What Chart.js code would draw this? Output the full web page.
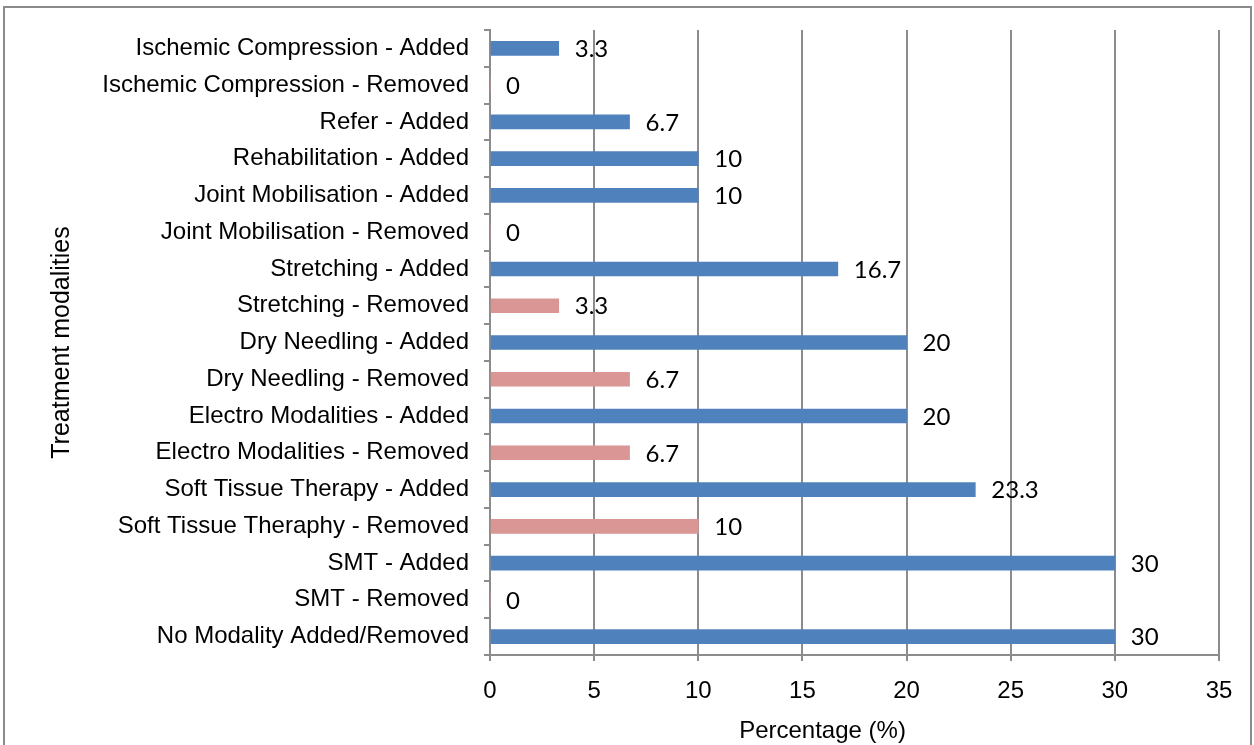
<!DOCTYPE html>
<html>
<head>
<meta charset="utf-8">
<style>
  html, body { margin: 0; padding: 0; background: #fff; }
  #wrap { width: 1254px; height: 745px; }
</style>
<script src="https://cdn.jsdelivr.net/npm/chart.js@4/dist/chart.umd.min.js"></script>
</head>
<body>
<div id="wrap"><canvas id="chart" width="1254" height="745"></canvas></div>
<script>
// Categories, top to bottom
const modalities = [
  "Ischemic Compression - Added",
  "Ischemic Compression - Removed",
  "Refer - Added",
  "Rehabilitation - Added",
  "Joint Mobilisation - Added",
  "Joint Mobilisation - Removed",
  "Stretching - Added",
  "Stretching - Removed",
  "Dry Needling - Added",
  "Dry Needling - Removed",
  "Electro Modalities - Added",
  "Electro Modalities - Removed",
  "Soft Tissue Therapy - Added",
  "Soft Tissue Theraphy - Removed",
  "SMT - Added",
  "SMT - Removed",
  "No Modality Added/Removed"
];
const percentages = [3.3, 0, 6.7, 10, 10, 0, 16.7, 3.3, 20, 6.7, 20, 6.7, 23.3, 10, 30, 0, 30];
const xTicks = [0, 5, 10, 15, 20, 25, 30, 35];
const xTitle = "Percentage (%)";

const BLUE = "#4f81bd";
const PINK = "#d99694";
const GRID = "#8c8c8c";
const FONT = "'Liberation Sans', Arial, sans-serif";

// Value labels next to each bar end
const valueLabels = {
  id: "valueLabels",
  afterDatasetsDraw(chart) {
    const ctx = chart.ctx;
    const meta = chart.getDatasetMeta(0);
    ctx.save();
    ctx.font = "24px Lato, 'Open Sans', sans-serif";
    ctx.fillStyle = "#000";
    ctx.textAlign = "left";
    ctx.textBaseline = "middle";
    meta.data.forEach((bar, i) => {
      ctx.fillText(String(percentages[i]), bar.x + 16, bar.y + 1);
    });
    ctx.restore();
  }
};

// Outer frame and the x title, which sits a little left of the plot centre
const frame = {
  id: "frame",
  afterDraw(chart) {
    const ctx = chart.ctx;
    const area = chart.chartArea;
    ctx.save();
    ctx.fillStyle = "#000";
    ctx.font = "24px " + FONT;
    ctx.textAlign = "center";
    ctx.textBaseline = "middle";
    ctx.fillText(xTitle, (area.left + area.right) / 2 - 32, 731);
    ctx.strokeStyle = "#8a8a8a";
    ctx.lineWidth = 2;
    ctx.strokeRect(4, 7, 1247, 800);
    ctx.restore();
  }
};

const ctx = document.getElementById("chart").getContext("2d");
new Chart(ctx, {
  type: "bar",
  data: {
    labels: modalities,
    datasets: [{
      data: percentages,
      backgroundColor: modalities.map(m => m.endsWith("- Removed") ? PINK : BLUE),
      borderWidth: 0,
      barThickness: 14
    }]
  },
  options: {
    indexAxis: "y",
    responsive: false,
    animation: false,
    layout: { padding: { top: 30, right: 35, bottom: 0, left: 0 } },
    plugins: { legend: { display: false }, tooltip: { enabled: false } },
    scales: {
      x: {
        min: 0,
        max: 35,
        afterBuildTicks: scale => { scale.ticks = xTicks.map(v => ({ value: v })); },
        afterFit: scale => { scale.height = 90; },
        grid: { color: GRID, lineWidth: 2, tickLength: 6, drawTicks: true },
        border: { display: true, color: GRID, width: 2 },
        ticks: { color: "#000", padding: 16, font: { family: FONT, size: 24 } },
        title: { display: false }
      },
      y: {
        afterFit: scale => { scale.width = 490; },
        grid: { drawOnChartArea: false, drawTicks: true, tickLength: 6, color: GRID, lineWidth: 2 },
        border: { display: true, color: GRID, width: 2 },
        ticks: { color: "#000", padding: 15, autoSkip: false, font: { family: FONT, size: 24 } },
        title: {
          display: true,
          text: "Treatment modalities",
          color: "#000",
          padding: { top: 47, bottom: 0 },
          font: { family: FONT, size: 25 }
        }
      }
    }
  },
  plugins: [valueLabels, frame]
});
</script>
</body>
</html>
